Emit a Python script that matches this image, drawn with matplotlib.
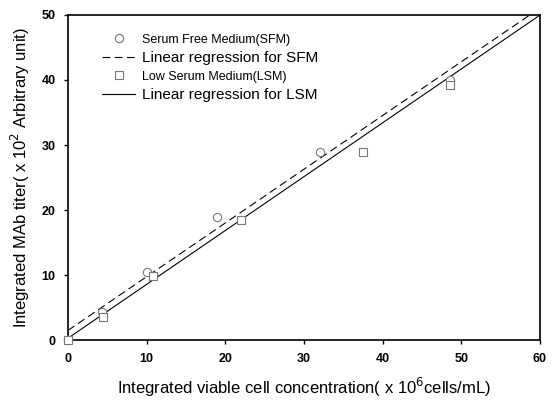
import matplotlib

matplotlib.use("Agg")
import matplotlib.pyplot as plt  # noqa: E402
import numpy as np  # noqa: E402

plt.rcParams["font.family"] = ["Liberation Sans", "DejaVu Sans"]

# Serum free medium (circles)
sfm_x = [0, 4.3, 10.0, 19.0, 32.0, 48.5]
sfm_y = [0, 4.3, 10.5, 19.0, 29.0, 40.0]
# Low serum medium (squares)
lsm_x = [0, 4.5, 10.8, 22.0, 37.5, 48.5]
lsm_y = [0, 3.5, 9.8, 18.5, 29.0, 39.3]

# regression lines: (intercept, slope)
sfm_fit = (1.5, 0.826)
lsm_fit = (0.3, 0.828)

fig = plt.figure(figsize=(5.59, 4.04), dpi=100)
ax = fig.add_axes([0.1216, 0.158, 0.8444, 0.805])

xx = np.array([0, 60])
mk = dict(linestyle="none", markerfacecolor="white", markeredgecolor="#777777",
          markeredgewidth=0.8, markersize=6, clip_on=False, zorder=3)
l1, = ax.plot(sfm_x, sfm_y, marker="o", **mk, label="Serum Free Medium(SFM)")
l2, = ax.plot(xx, sfm_fit[0] + sfm_fit[1] * xx, color="black", lw=0.8,
              linestyle=(0, (7, 4)), label="Linear regression for SFM")
l3, = ax.plot(lsm_x, lsm_y, marker="s", **mk, label="Low Serum Medium(LSM)")
l4, = ax.plot(xx, lsm_fit[0] + lsm_fit[1] * xx, color="black", lw=0.8,
              label="Linear regression for LSM")

ax.set_xlim(0, 60)
ax.set_ylim(0, 50)
ax.set_xticks(range(0, 61, 10))
ax.set_yticks(range(0, 51, 10))
ax.tick_params(direction="out", length=3, width=1, labelsize=9, pad=6)
for t in ax.get_xticklabels() + ax.get_yticklabels():
    t.set_fontweight("bold")
for s in ax.spines.values():
    s.set_linewidth(1.2)

ax.set_xlabel("Integrated viable cell concentration( x 10$^6$cells/mL)",
              fontsize=12, labelpad=8)
ax.set_ylabel("Integrated MAb titer( x 10$^2$ Arbitrary unit)", fontsize=12,
              labelpad=7)

leg = ax.legend(handles=[l1, l2, l3, l4], loc="upper left",
                bbox_to_anchor=(0.06, 0.96), frameon=False, handlelength=2.4,
                handletextpad=0.5, labelspacing=0.35, borderaxespad=0)
for i, t in enumerate(leg.get_texts()):
    t.set_fontsize(9 if i in (0, 2) else 11)

fig.savefig("out.png", dpi=100)
